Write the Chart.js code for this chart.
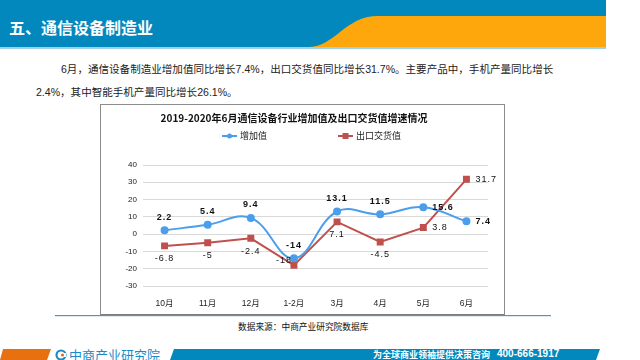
<!DOCTYPE html>
<html>
<head>
<meta charset="utf-8">
<script src="https://cdn.jsdelivr.net/npm/chart.js@4"></script>
<style>
  body { margin: 0; width: 640px; height: 360px; overflow: hidden; background: #fff; position: relative;
         font-family: "Liberation Sans", "Noto Sans CJK SC", sans-serif; }
  .abs { position: absolute; }
  #para { left: 36px; top: 58px; font-size: 10.55px; line-height: 23px; color: #222; white-space: nowrap; }
  #box { left: 100px; top: 104px; width: 405px; height: 211px; box-sizing: border-box; border: 1px solid #8c8c8c; border-bottom-color: #7f7f7f; }
  #chartWrap { left: 100px; top: 104px; width: 405px; height: 211px; }
  #legend { left: 222px; top: 129px; display: flex; gap: 71px; align-items: center; font-size: 9px; color: #222;
            font-family: "Noto Sans CJK SC", sans-serif; }
  #legend span.item { display: flex; align-items: center; gap: 3px; }
  #source { left: 238px; top: 320px; font-size: 8.7px; color: #111; font-family: "Noto Sans CJK SC", sans-serif; }
</style>
</head>
<body>

<svg class="abs" style="left:0;top:0" width="640" height="52">
  <rect x="0" y="0" width="606" height="47" fill="#0288bd"/>
  <path d="M 308 47 C 335 47, 345 16, 378 16 L 606 16 L 606 47 Z" fill="#fda70c"/>
  <rect x="0" y="47" width="606" height="2" fill="#9fd0e6"/>
</svg>
<div class="abs" style="left:9px;top:15px;font-size:16px;font-weight:bold;color:#fff;font-family:'Noto Sans CJK SC',sans-serif;">五、通信设备制造业</div>

<div id="para" class="abs">
  <span style="padding-left:25px">6月，通信设备制造业增加值同比增长7.4%，出口交货值同比增长31.7%。主要产品中，手机产量同比增长</span><br>
  2.4%，其中智能手机产量同比增长26.1%。
</div>

<svg class="abs" style="left:0;top:310px" width="640" height="10">
  <rect x="55" y="5" width="496" height="1.2" fill="#5b8fc6"/>
</svg>
<div id="box" class="abs"></div>
<div id="chartWrap" class="abs"><canvas id="myChart" width="405" height="211"></canvas></div>
<div id="legend" class="abs"></div>
<div id="source" class="abs">数据来源：中商产业研究院数据库</div>

<svg class="abs" style="left:0;top:349px" width="640" height="11">
  <polygon points="3,0 51,0 47,11 0,11" fill="#e8700f"/>
  <polygon points="174,0 600,0 596,11 170,11" fill="#0288bd"/>
  <circle cx="61" cy="6" r="4.5" fill="none" stroke="#1b8ac6" stroke-width="2.2"/>
  <rect x="61" y="4" width="5" height="4" fill="#fff"/>
  <circle cx="62.5" cy="6" r="1.6" fill="#e8700f"/>
</svg>
<div class="abs" style="left:69px;top:345px;font-size:13px;color:#1b8ac6;font-family:'Noto Sans CJK SC',sans-serif;">中商产业研究院</div>
<div class="abs" style="left:373px;top:348px;font-size:9px;font-weight:bold;color:#fff;font-family:'Noto Sans CJK SC',sans-serif;">为全球商业领袖提供决策咨询</div>
<div class="abs" style="left:497px;top:348px;font-size:10px;font-weight:bold;color:#fff;">400-666-1917</div>

<script>
const categories = ['10月', '11月', '12月', '1-2月', '3月', '4月', '5月', '6月'];
const addedValue = [2.2, 5.4, 9.4, -14, 13.1, 11.5, 15.6, 7.4];
const exportValue = [-6.8, -5, -2.4, -18, 7.1, -4.5, 3.8, 31.7];
const yMin = -30, yMax = 40, yStep = 10;

const chartTitle = '2019-2020年6月通信设备行业增加值及出口交货值增速情况';
const blue = '#4a9eec';
const red = '#c0504d';

// where each value label sits relative to its point
const bluePos = ['above', 'above', 'above', 'above', 'above', 'above', 'right', 'right'];
const redPos = ['below', 'below', 'below', 'left', 'below', 'below', 'right', 'right'];

const pointLabels = {
  id: 'pointLabels',
  afterDatasetsDraw(chart) {
    const ctx = chart.ctx;
    chart.data.datasets.forEach((ds, i) => {
      const meta = chart.getDatasetMeta(i);
      meta.data.forEach((pt, j) => {
        const pos = ds.labelPos[j];
        let x = pt.x, y = pt.y;
        ctx.save();
        ctx.font = ds.labelFont;
        ctx.fillStyle = '#111';
        ctx.letterSpacing = '1px';
        ctx.textBaseline = 'middle';
        ctx.textAlign = 'center';
        if (pos == 'above') y -= 13;
        if (pos == 'below') y += 13;
        if (pos == 'right') { ctx.textAlign = 'left'; x += 9; }
        if (pos == 'left') { ctx.textAlign = 'right'; x -= 2; y -= 5; }
        ctx.fillText(String(ds.data[j]), x, y);
        ctx.restore();
      });
    });
  }
};

const data = {
  labels: categories,
  datasets: [{
    label: '增加值',
    data: addedValue,
    borderColor: blue,
    backgroundColor: blue,
    borderWidth: 2,
    pointRadius: 3,
    pointStyle: 'circle',
    tension: 0.4,
    labelPos: bluePos,
    labelFont: 'bold 9px "Liberation Sans"'
  }, {
    label: '出口交货值',
    data: exportValue,
    borderColor: red,
    backgroundColor: red,
    borderWidth: 2,
    pointRadius: 3.5,
    pointStyle: 'rect',
    tension: 0,
    labelPos: redPos,
    labelFont: '9px "Liberation Sans"'
  }]
};

const config = {
  type: 'line',
  data: data,
  options: {
    responsive: false,
    animation: false,
    layout: { padding: { left: 0, right: 17, top: 0, bottom: 0 } },
    plugins: {
      legend: { display: false },
      tooltip: { enabled: false },
      title: {
        display: true,
        text: chartTitle,
        color: '#111',
        font: { size: 10, weight: 'bold', family: '"Noto Sans CJK SC"' },
        padding: { top: 8, bottom: 41 }
      }
    },
    scales: {
      x: {
        offset: true,
        grid: { display: false },
        border: { display: false },
        ticks: { color: '#222', font: { size: 8.5, family: '"Liberation Sans", "Noto Sans CJK SC"' }, padding: 5, maxRotation: 0 },
        afterFit: (s) => { s.height = 29; }
      },
      y: {
        min: yMin,
        max: yMax,
        grid: { color: '#d9d9d9', drawTicks: false },
        border: { display: false },
        ticks: { stepSize: yStep, color: '#222', font: { size: 8, family: '"Liberation Sans"' }, padding: 6 },
        afterFit: (s) => { s.width = 43; }
      }
    }
  },
  plugins: [pointLabels]
};

const myChart = new Chart(document.getElementById('myChart'), config);

// legend built from the chart's datasets
const legendEl = document.getElementById('legend');
myChart.data.datasets.forEach((ds) => {
  const item = document.createElement('span');
  item.className = 'item';
  const icon = document.createElement('canvas');
  icon.width = 15; icon.height = 8;
  const c = icon.getContext('2d');
  c.strokeStyle = ds.borderColor; c.lineWidth = 2;
  c.beginPath(); c.moveTo(0, 4); c.lineTo(15, 4); c.stroke();
  c.fillStyle = ds.borderColor;
  if (ds.pointStyle == 'rect') c.fillRect(4.5, 1, 6, 6);
  else { c.beginPath(); c.arc(7.5, 4, 2.5, 0, Math.PI * 2); c.fill(); }
  item.appendChild(icon);
  const t = document.createElement('span');
  t.textContent = ds.label;
  item.appendChild(t);
  legendEl.appendChild(item);
});
</script>
</body>
</html>
